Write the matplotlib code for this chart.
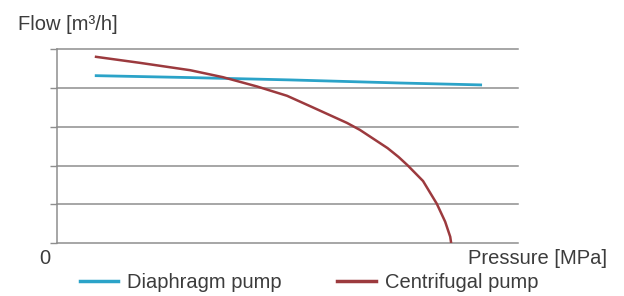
import matplotlib
matplotlib.use("Agg")
import matplotlib.pyplot as plt
from matplotlib.lines import Line2D

# Data (arbitrary units)
diaphragm_p = [0.82, 2.89, 5.05, 7.44, 9.22]
diaphragm_q = [4.32, 4.27, 4.21, 4.13, 4.08]

centrifugal_p = [0.82, 1.80, 2.89, 3.60, 4.34, 4.99, 5.55, 6.29, 6.57, 7.17,
                 7.41, 7.61, 7.94, 8.24, 8.42, 8.53, 8.55]
centrifugal_q = [4.81, 4.65, 4.46, 4.28, 4.04, 3.80, 3.50, 3.10, 2.92, 2.45,
                 2.22, 2.00, 1.60, 1.01, 0.55, 0.16, 0.0]

grid_levels = [0, 1, 2, 3, 4, 5]

plt.rcParams['font.family'] = ['Liberation Sans', 'DejaVu Sans']

W, H = 624, 296
fig = plt.figure(figsize=(W / 100, H / 100), dpi=100)
ax = fig.add_axes([57 / W, (H - 243) / H, (518 - 57) / W, (243 - 49.3) / H])

blue = '#2ba3c8'
red = '#9c3a3e'
gridc = '#8e8e8e'
txtc = '#3c3c3c'

ax.set_xlim(0, 10)
ax.set_ylim(0, 5)
ax.set_yticks(grid_levels)
ax.set_yticklabels([])
ax.set_xticks([])
ax.tick_params(axis='y', length=5, color=gridc, width=1)
for lvl in grid_levels:
    ax.axhline(lvl, color=gridc, lw=1.1, zorder=1, clip_on=False)
for s in ['top', 'right', 'bottom']:
    ax.spines[s].set_visible(False)
ax.spines['left'].set_color(gridc)
ax.spines['left'].set_linewidth(1.1)

ax.plot(diaphragm_p, diaphragm_q, color=blue, lw=2, zorder=3, solid_capstyle='butt')
ax.plot(centrifugal_p, centrifugal_q, color=red, lw=1.8, zorder=4,
        solid_capstyle='butt', solid_joinstyle='round')

fs = 14.5
fig.text(18 / W, 1 - 25 / H, 'Flow [m³/h]', fontsize=fs, color=txtc, ha='left', va='center')
fig.text(45 / W, 1 - 259 / H, '0', fontsize=fs, color=txtc, ha='center', va='center')
fig.text(607 / W, 1 - 259 / H, 'Pressure [MPa]', fontsize=fs, color=txtc, ha='right', va='center')

handles = [Line2D([], [], color=blue, lw=2.5), Line2D([], [], color=red, lw=2.5)]
fig.legend(handles, ['Diaphragm pump', 'Centrifugal pump'], loc='center left',
           bbox_to_anchor=(80 / W, 1 - 283 / H), ncol=2, frameon=False, fontsize=fs,
           handlelength=1.9, handletextpad=0.45, columnspacing=2.75,
           borderpad=0, borderaxespad=0, labelcolor=txtc)

fig.savefig('out.png', dpi=100)
